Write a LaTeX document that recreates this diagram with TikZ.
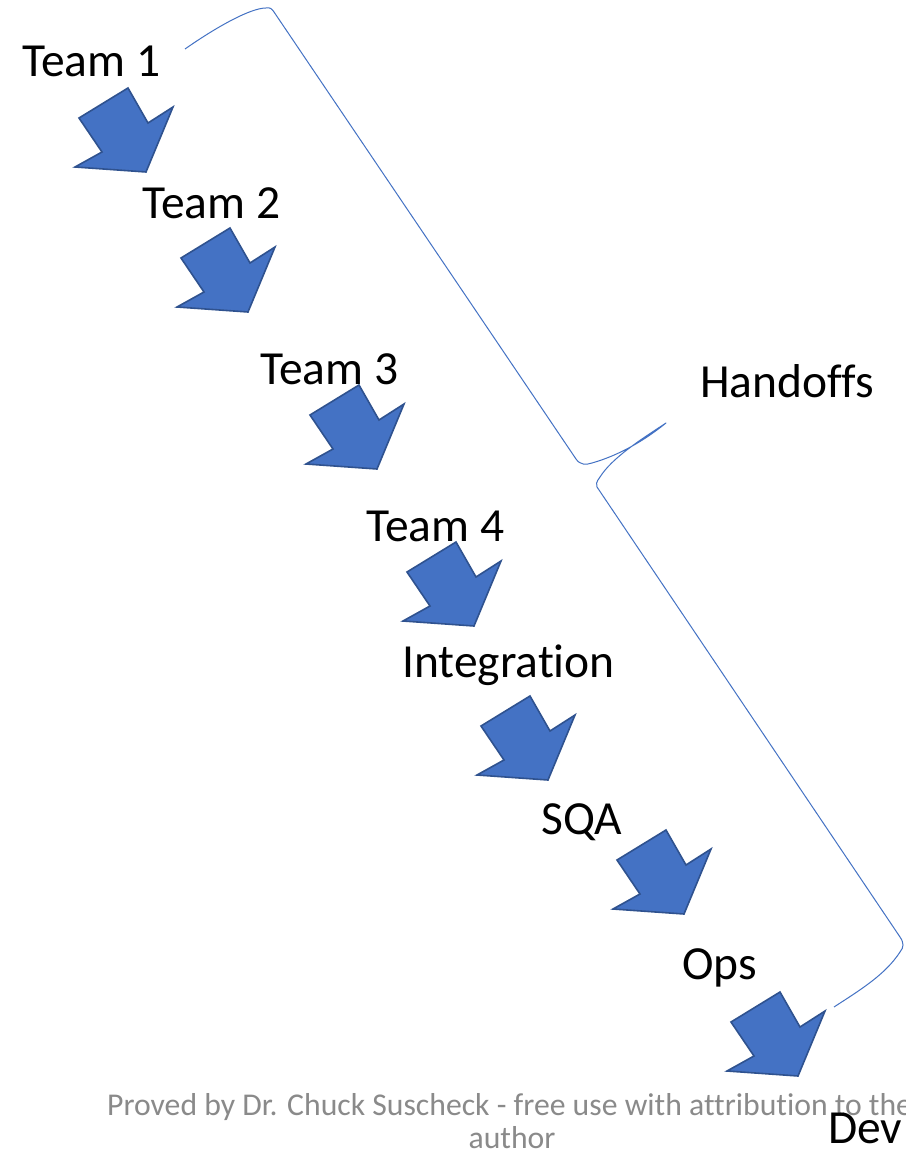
\documentclass[tikz,border=0pt]{standalone}
\usepackage{fontspec}
\setmainfont{Carlito}[Ligatures={NoCommon}]
\definecolor{arrowfill}{HTML}{4472C4}
\definecolor{arrowedge}{HTML}{2F528F}
\definecolor{bracecol}{HTML}{4472C4}
\definecolor{footgray}{HTML}{8A8A8A}
\tikzset{
  lbl/.style={anchor=base west, inner sep=0pt, font=\fontsize{47.5}{52}\selectfont, text=black},
  foot/.style={anchor=base, inner sep=0pt, font=\fontsize{31.7}{35}\selectfont, text=footgray},
  blockarrow/.pic={
    \draw[fill=arrowfill, draw=arrowedge, line width=1.6pt, line join=miter]
      (-67,-54) -- (-18,-84) -- (2,-49) -- (27,-65) -- (0,0) -- (-71,-5) -- (-44,-20) -- cycle;
  }
}
\begin{document}
\begin{tikzpicture}[x=1pt,y=-1pt]
\useasboundingbox (0,0) rectangle (905,1153);
\fill[white] (0,0) rectangle (905,1153);

% arrows (positioned by their tips)
\pic (a1) at (146,172) {blockarrow};
\pic (a2) at (248,312) {blockarrow};
\pic (a3) at (377,469) {blockarrow};
\pic (a4) at (474,626) {blockarrow};
\pic (a5) at (548,780) {blockarrow};
\pic (a6) at (684,914) {blockarrow};
\pic (a7) at (798,1076) {blockarrow};

% brace
\coordinate (bs) at (185,49);
\coordinate (btip) at (666,423);
\coordinate (bm2) at (597,487);
\coordinate (be) at (834,1007);
\draw[bracecol, line width=1pt, line join=round]
  (bs) .. controls (215,28) and (250,8) .. (266,8)
  .. controls (270,7) and (272,9) .. (274,12)
  -- (576,459) .. controls (580,465) and (586,465) .. (592,463)
  .. controls (620,455) and (645,440) .. (btip)
  .. controls (640,440) and (612,458) .. (600,477)
  .. controls (596,482) and (596,485) .. (bm2)
  -- (900,937) .. controls (904,943) and (904,947) .. (900,952)
  .. controls (885,975) and (860,990) .. (be);

% labels
\node[lbl] (t1) at (22,77) {Team 1};
\node[lbl] (t2) at (142,218) {Team 2};
\node[lbl] (t3) at (260,384) {Team 3};
\node[lbl] (t4) at (366,541) {Team 4};
\node[lbl] (int) at (402,677) {Integration};
\node[lbl] (sqa) at (541,834) {SQA};
\node[lbl] (ops) at (682,979) {Ops};
\node[lbl] (hand) at (700,397) {Handoffs};

% footer
\node[foot, anchor=base west] (f1) at (107,1115) {Proved by Dr. Chuck Suscheck - free use with attribution to the};
\node[foot] (f2) at (512,1148) {author};

\node[lbl] (dev) at (828,1143) {Dev};
\end{tikzpicture}
\end{document}
